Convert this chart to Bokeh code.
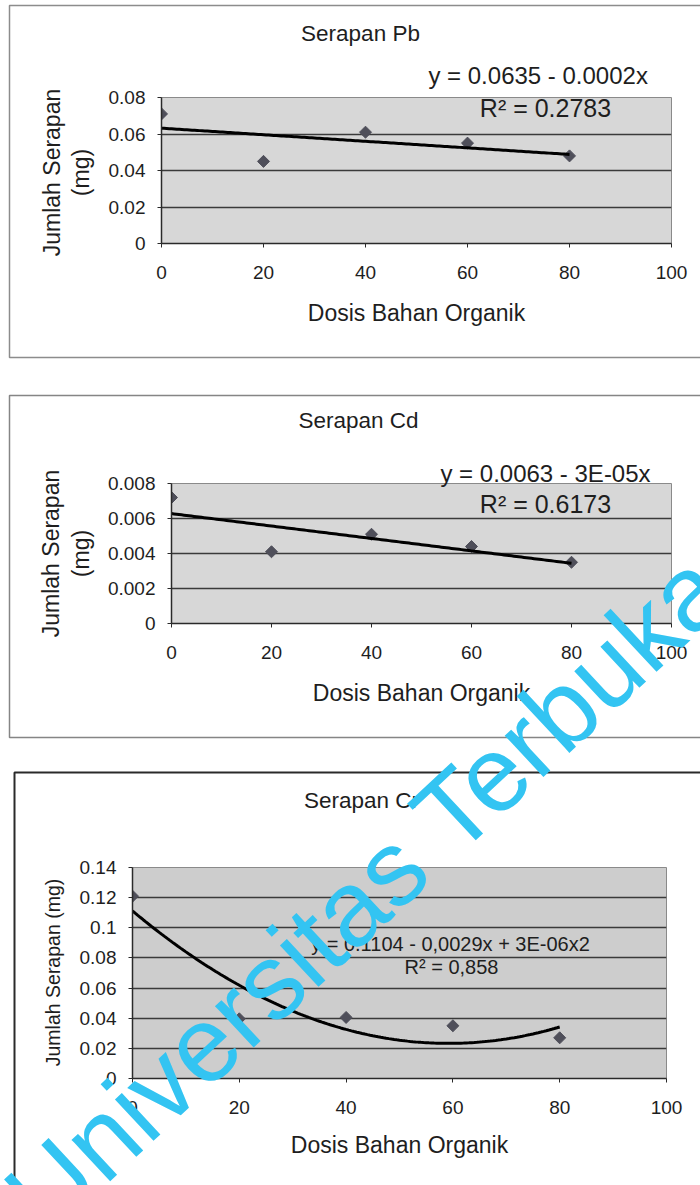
import numpy as np
from bokeh.plotting import figure
from bokeh.models import Range1d, FixedTicker
from bokeh.core.properties import value
from bokeh.embed import file_html
from bokeh.resources import INLINE

# ---------------- data ----------------
dosis = [0, 20, 40, 60, 80]
serapan_pb = [0.071, 0.045, 0.061, 0.055, 0.048]
serapan_cd = [0.0072, 0.0041, 0.0051, 0.0044, 0.0035]
serapan_cr = [0.121, 0.0396, 0.0405, 0.035, 0.027]

x_ticks = [0, 20, 40, 60, 80, 100]
x_labels = ["0", "20", "40", "60", "80", "100"]
pb_y_ticks = [0, 0.02, 0.04, 0.06, 0.08]
pb_y_labels = ["0", "0.02", "0.04", "0.06", "0.08"]
cd_y_ticks = [0, 0.002, 0.004, 0.006, 0.008]
cd_y_labels = ["0", "0.002", "0.004", "0.006", "0.008"]
cr_y_ticks = [0, 0.02, 0.04, 0.06, 0.08, 0.1, 0.12, 0.14]
cr_y_labels = ["0", "0.02", "0.04", "0.06", "0.08", "0.1", "0.12", "0.14"]

titles = ["Serapan Pb", "Serapan Cd", "Serapan Cr"]
eq_pb = ["y =  0.0635 - 0.0002x", "R\u00b2 = 0.2783"]
eq_cd = ["y = 0.0063 - 3E-05x", "R\u00b2 = 0.6173"]
eq_cr = ["y = 0.1104 - 0,0029x + 3E-06x2", "R\u00b2 = 0,858"]
x_title = "Dosis Bahan Organik"
y_title_lines = ["Jumlah Serapan", "(mg)"]
y_title_single = "Jumlah Serapan (mg)"
watermark = "Universitas Terbuka"

FONT = "Liberation Sans"
TXT = "#1e1e1e"
PAGE_W, PAGE_H = 700, 1185


def make_chart(H, left, right, top, bottom, fill, yticks, ylabels, ymax,
               vals, deg, xlab_standoff):
    p = figure(width=PAGE_W, height=H, x_range=Range1d(0, 100), y_range=Range1d(0, ymax),
               output_backend="svg", toolbar_location=None,
               min_border_left=left, min_border_right=right,
               min_border_top=top, min_border_bottom=bottom,
               background_fill_color=fill, border_fill_color="white",
               outline_line_color="#8a8a8a", outline_line_width=1)
    p.xgrid.visible = False
    p.ygrid.ticker = FixedTicker(ticks=yticks)
    p.ygrid.grid_line_color = "#3a3a3a"
    p.ygrid.grid_line_width = 1.3

    p.xaxis.ticker = FixedTicker(ticks=x_ticks)
    p.xaxis.major_label_overrides = {t: l for t, l in zip(x_ticks, x_labels)}
    p.yaxis.ticker = FixedTicker(ticks=yticks)
    p.yaxis.major_label_overrides = {t: l for t, l in zip(yticks, ylabels)}
    for ax in (p.xaxis[0], p.yaxis[0]):
        ax.axis_line_color = "#2a2a2a"
        ax.axis_line_width = 1.5
        ax.major_tick_line_color = "#2a2a2a"
        ax.major_tick_in = 0
        ax.major_tick_out = 4
        ax.minor_tick_line_color = None
        ax.major_label_text_font = FONT
        ax.major_label_text_font_size = "19px"
        ax.major_label_text_color = TXT
    p.xaxis.major_label_standoff = 18
    p.yaxis.major_label_standoff = 12
    p.xaxis.axis_label = x_title
    p.xaxis.axis_label_text_font = FONT
    p.xaxis.axis_label_text_font_size = "23px"
    p.xaxis.axis_label_text_font_style = "normal"
    p.xaxis.axis_label_text_color = TXT
    p.xaxis.axis_label_standoff = xlab_standoff

    # data points and Excel-style trend line (least squares fit of the points)
    p.scatter(dosis, vals, marker="square", angle=np.pi / 4, size=8.5,
              fill_color="#4f4f5a", line_color="#4f4f5a")
    coef = np.polyfit(dosis, vals, deg)
    xs = np.linspace(min(dosis), max(dosis), 161)
    p.line(xs, np.polyval(coef, xs), line_color="black", line_width=3)
    return p


p1 = make_chart(376, 161, 29, 97, 133, "#d7d7d7", pb_y_ticks, pb_y_labels, 0.08,
                serapan_pb, 1, 18)
p2 = make_chart(380, 171, 29, 107, 133, "#d7d7d7", cd_y_ticks, cd_y_labels, 0.008,
                serapan_cd, 1, 18)
p3 = make_chart(429, 132, 34, 111, 107, "#cdcdcd", cr_y_ticks, cr_y_labels, 0.14,
                serapan_cr, 2, 15)

# ---------- transparent page overlay: chart boxes, titles, equations, watermark ----------
ov = figure(width=PAGE_W, height=PAGE_H, x_range=Range1d(0, PAGE_W), y_range=Range1d(0, PAGE_H),
            x_axis_type=None, y_axis_type=None, min_border=0, toolbar_location=None,
            output_backend="svg", background_fill_alpha=0, border_fill_alpha=0,
            outline_line_color=None,
            styles={"position": "absolute", "left": "0px", "top": "0px"})
ov.grid.visible = False


def Y(page_y):
    return PAGE_H - page_y


# chart area borders (top, left, bottom edges; right edge lies at the page edge)
for top_y, left_x, bot_y, col, lw in ((5, 9, 357, "#8c8c8c", 1.5),
                                      (395, 9, 737, "#858585", 1.5),
                                      (772, 14, 1195, "#2a2a2a", 2)):
    ov.line([710, left_x, left_x, 710], [Y(top_y), Y(top_y), Y(bot_y), Y(bot_y)],
            line_color=col, line_width=lw)


def txt(x, y, s, size, angle=0.0, align="center"):
    ov.text(x=[x], y=[Y(y)], text=[s], angle=angle, text_font=value(FONT),
            text_font_size=size, text_color=TXT, text_align=align,
            text_baseline="middle")


# titles
txt(360, 33, titles[0], "22.5px")
txt(358, 419.5, titles[1], "22.5px")
txt(361, 799.5, titles[2], "22.5px")
# trend-line equations
txt(541, 74.5, eq_pb[0], "24px")
txt(545, 107.5, eq_pb[1], "25px")
txt(545, 472.5, eq_cd[0], "24px")
txt(545, 503.5, eq_cd[1], "25px")
txt(450, 943.5, eq_cr[0], "20px")
txt(451, 966, eq_cr[1], "20px")
# y axis titles
txt(51, 172, y_title_lines[0], "23px", np.pi / 2)
txt(80, 172, y_title_lines[1], "23px", np.pi / 2)
txt(50, 553, y_title_lines[0], "23px", np.pi / 2)
txt(80, 553, y_title_lines[1], "23px", np.pi / 2)
txt(52, 972, y_title_single, "19.5px", np.pi / 2)

# watermark (centre of its baseline)
ov.text(x=[366], y=[Y(891)], text=[watermark], angle=np.deg2rad(43),
        text_font=value(FONT), text_font_size="107px", text_color="#33c4f2",
        text_align="center", text_baseline="alphabetic")

open("out.html", "w").write(file_html([p1, p2, p3, ov], INLINE))
